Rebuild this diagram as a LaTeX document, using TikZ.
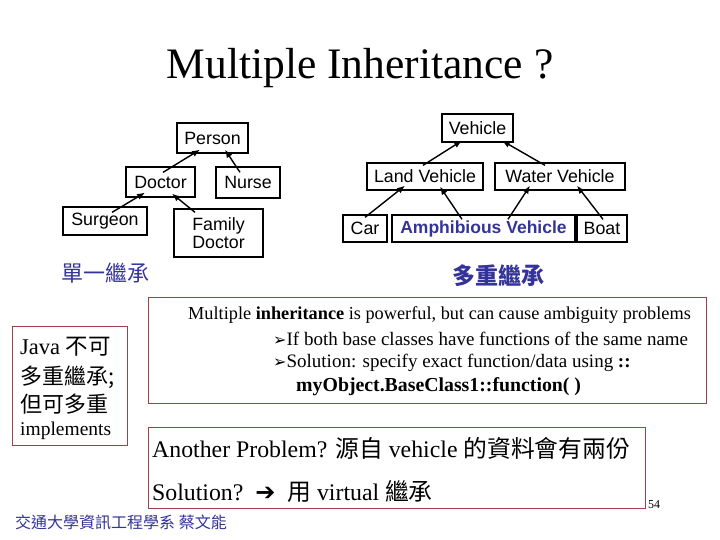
\documentclass[tikz,border=0pt]{standalone}
\usepackage{fontspec}
\setmainfont{Liberation Serif}
\setsansfont{Liberation Sans}
\newfontfamily\cjk{Noto Sans CJK TC}
\newfontfamily\symf{DejaVu Sans}
\usepackage{xcolor}
\definecolor{slideblue}{HTML}{333399}
\definecolor{boxred}{HTML}{A04048}
\usepackage{tikz}
\usetikzlibrary{
  arrows.meta,
  positioning,
  calc
}
\newcommand{\fsz}[1]{\fontsize{#1}{#1}\selectfont}

\begin{document}
\begin{tikzpicture}[x=1pt,y=-1pt,
  cls/.style={draw,line width=1.3pt,inner sep=0pt,align=center,font=\sffamily\fsz{17.8}},
  inh/.style={line width=1.4pt,-{Latex[length=8pt,width=6.5pt]}},
  note/.style={draw=boxred,line width=0.9pt,inner sep=0pt},
  txt/.style={anchor=west,inner sep=0pt}]
  \useasboundingbox (0,0) rectangle (720,540);
  % title
  \node (title) at (360,68) {\fsz{43.5}Multiple Inheritance ?};
  % single inheritance tree
  \node[cls,minimum width=71pt,minimum height=30pt] (person) at (212.5,138) {Person};
  \node[cls,minimum width=69pt,minimum height=30pt] (doctor) at (160.5,182) {Doctor};
  \node[cls,minimum width=64pt,minimum height=31pt] (nurse) at (248,182.5) {Nurse};
  \node[cls,minimum width=84pt,minimum height=28pt] (surgeon) at (105,221) {Surgeon};
  \node[cls,minimum width=89pt,minimum height=48pt] (famdoc) at (218.5,233) {Family\\Doctor};
  \draw[inh] ([shift={(2.5,6)}]doctor.north) -- ([shift={(-12.5,-4)}]person.south);
  \draw[inh] ([shift={(-8,6)}]nurse.north) -- ([shift={(12.5,-4)}]person.south);
  \draw[inh] ([shift={(7,6)}]surgeon.north) -- ([shift={(-15.5,-5)}]doctor.south);
  \draw[inh] ([shift={(-23.5,4)}]famdoc.north) -- ([shift={(11.5,-4)}]doctor.south);
  % multiple inheritance tree
  \node[cls,minimum width=71pt,minimum height=28pt] (vehicle) at (477.5,128) {Vehicle};
  \node[cls,minimum width=116pt,minimum height=27pt] (land) at (425,176.5) {Land Vehicle};
  \node[cls,minimum width=130pt,minimum height=27pt] (water) at (560,176.5) {Water Vehicle};
  \node[cls,minimum width=44pt,minimum height=27pt] (car) at (365,228.5) {Car};
  \node[cls,minimum width=183pt,minimum height=27pt,text=slideblue,font=\sffamily\bfseries\fsz{17.5}] (amph) at (483.5,228.5) {Amphibious Vehicle};
  \node[cls,minimum width=50pt,minimum height=27pt] (boat) at (602,228.5) {Boat};
  \draw[inh] ([shift={(-2,3)}]land.north) -- ([shift={(-15.5,-2)}]vehicle.south);
  \draw[inh] ([shift={(-15,3)}]water.north) -- ([shift={(24.5,-2)}]vehicle.south);
  \draw[inh] ([shift={(0,3)}]car.north) -- ([shift={(-20,-5)}]land.south);
  \draw[inh] ([shift={(-21.5,5)}]amph.north) -- ([shift={(15,-4)}]land.south);
  \draw[inh] ([shift={(24.5,5)}]amph.north) -- ([shift={(-30,-5)}]water.south);
  \draw[inh] ([shift={(1,5)}]boat.north) -- ([shift={(17,-5)}]water.south);
  % captions
  \node[text=slideblue] (single) at (105,273) {\cjk\fsz{22}單一繼承};
  \node[text=slideblue] (multi) at (498,276) {\cjk\bfseries\fsz{23}多重繼承};
  % ambiguity note
  \node[note,minimum width=558pt,minimum height=106pt] (ambig) at (427,350) {};
  \node[txt] (amb1) at (188,315) {\fsz{18.3}Multiple \textbf{inheritance} is powerful, but can cause ambiguity problems};
  \node[txt] (amb2) at (273,339) {\fsz{19}{\symf\fsz{16}➢}If both base classes have functions of the same name};
  \node[txt] (amb3) at (273,363) {\fsz{19}{\symf\fsz{16}➢}Solution: specify exact function/data using \textbf{::}};
  \node[txt] (amb4) at (296,387) {\fsz{19.8}\bfseries myObject.BaseClass1::function( )};
  % java note
  \node[note,minimum width=115pt,minimum height=119pt] (java) at (69.5,385.5) {};
  \node[txt] (java1) at (20,347) {\fsz{22.5}Java {\cjk 不可}};
  \node[txt] (java2) at (20,377) {\cjk\fsz{22}多重繼承;};
  \node[txt] (java3) at (20,404) {\cjk\fsz{22}但可多重};
  \node[txt] (java4) at (20,431) {\fsz{19.5}implements};
  % another problem note
  \node[note,minimum width=497pt,minimum height=81pt] (another) at (396.5,467.5) {};
  \node[txt] (prob) at (152,448) {\fsz{23.8}Another Problem? {\cjk 源自} vehicle {\cjk 的資料會有兩份}};
  \node[txt] (sol) at (152,491) {\fsz{23.8}Solution?\ \ {\symf\bfseries\fsz{24}➔}\ \ {\cjk 用} virtual {\cjk 繼承}};
  % footer
  \node[txt] (page) at (648,505) {\fsz{12}54};
  \node[txt,text=slideblue] (footer) at (15,522) {\cjk\fsz{16}交通大學資訊工程學系 蔡文能};
\end{tikzpicture}
\end{document}
